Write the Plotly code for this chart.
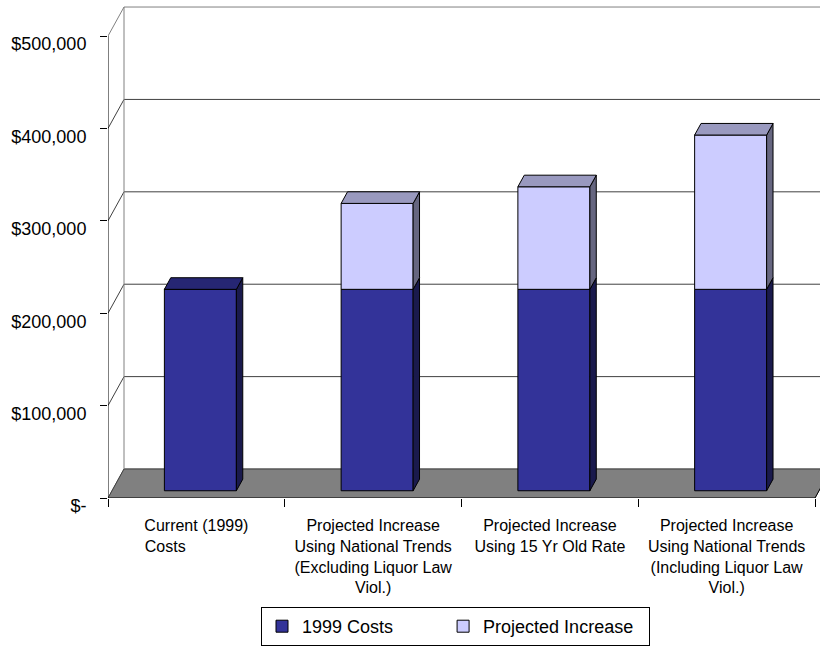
import numpy as np
import plotly.graph_objects as go

# ---- data -------------------------------------------------------------
categories = [
    "Current (1999)<br>Costs" + "\u00a0" * 14,
    "Projected Increase<br>Using National Trends<br>(Excluding Liquor Law<br>Viol.)",
    "Projected Increase<br>Using 15 Yr Old Rate",
    "Projected Increase<br>Using National Trends<br>(Including Liquor Law<br>Viol.)",
]
series_names = ["1999 Costs", "Projected Increase"]
costs_1999 = [218000, 218000, 218000, 218000]
projected_increase = [0, 93000, 111000, 167000]
y_tick_values = [0, 100000, 200000, 300000, 400000, 500000]
y_tick_labels = ["$-", "$100,000", "$200,000", "$300,000", "$400,000", "$500,000"]

# ---- geometry / style ---------------------------------------------------
W, H = 820, 648
M_L, M_B = 108, 150
PLOT_W, PLOT_H = W - M_L, H - M_B
CAT_PX = 176.75                      # pixel width of one category slot
X_MAX = PLOT_W / CAT_PX
Y_TOP = 539000
UNITS_PER_PX = Y_TOP / PLOT_H
DX = 16 / CAT_PX                     # depth of the 3-D box (x component)
DY = 29 * UNITS_PER_PX               # depth of the 3-D box (y component)
BAR_W = 72 / CAT_PX
FRONT, BACK = 0.25, 0.65             # bar front/back depth fractions

DARK, LIGHT = "#333399", "#CCCCFF"
DARK_TOP, DARK_SIDE = "#262673", "#1a1a4d"
LIGHT_TOP, LIGHT_SIDE = "#9999bf", "#666680"
FONT = "Liberation Sans, Arial, sans-serif"
NBSP = "\u00a0"

n = len(categories)
centers = np.arange(n) + 0.5
lift = FRONT * DY
shift = FRONT * DX
bdx = (BACK - FRONT) * DX
bdy = (BACK - FRONT) * DY

fig = go.Figure()

# front faces of the stacked bars
fig.add_trace(go.Bar(
    x=centers, y=costs_1999, base=[lift] * n, width=BAR_W,
    offset=-BAR_W / 2 + shift, name=series_names[0] + NBSP * 9,
    marker=dict(color=DARK, line=dict(color="black", width=1)),
    hoverinfo="skip",
))
fig.add_trace(go.Bar(
    x=centers, y=projected_increase,
    base=[lift + c for c in costs_1999], width=BAR_W,
    offset=-BAR_W / 2 + shift, name=series_names[1] + NBSP * 2,
    marker=dict(color=LIGHT, line=dict(color="black", width=1)),
    hoverinfo="skip",
))


def face(xs, ys, color):
    fig.add_trace(go.Scatter(
        x=xs + [xs[0]], y=ys + [ys[0]], mode="lines", fill="toself",
        fillcolor=color, line=dict(color="black", width=1),
        hoverinfo="skip", showlegend=False,
    ))


# side and top faces
for i in range(n):
    xl = centers[i] - BAR_W / 2 + shift
    xr = xl + BAR_W
    segs = [(0, costs_1999[i], DARK_SIDE, DARK_TOP),
            (costs_1999[i], costs_1999[i] + projected_increase[i], LIGHT_SIDE, LIGHT_TOP)]
    segs = [s for s in segs if s[1] > s[0]]
    for k, (b, t, side_c, top_c) in enumerate(segs):
        b, t = b + lift, t + lift
        face([xr, xr + bdx, xr + bdx, xr], [b, b + bdy, t + bdy, t], side_c)
        if k == len(segs) - 1:
            face([xl, xl + bdx, xr + bdx, xr], [t, t + bdy, t + bdy, t], top_c)

# category labels live on an overlaying axis so ticks can sit on the slot edges
fig.add_trace(go.Scatter(x=[None], y=[None], xaxis="x2", showlegend=False,
                         hoverinfo="skip"))

shapes = []
# floor
shapes.append(dict(type="path", xref="x", yref="y", layer="below",
                   path=f"M0,0 L{n},0 L{n + DX},{DY} L{DX},{DY} Z",
                   fillcolor="#808080", line=dict(color="#808080", width=1)))
# back-wall gridlines with their side-wall diagonals
for v in y_tick_values:
    col = "#808080" if v == y_tick_values[-1] else "#404040"
    shapes.append(dict(type="path", xref="x", yref="y", layer="below",
                       path=f"M0,{v} L{DX},{v + DY} L{X_MAX + 1},{v + DY}",
                       line=dict(color=col, width=1)))
# back-wall left edge
shapes.append(dict(type="line", xref="x", yref="y", layer="below",
                   x0=DX, y0=DY, x1=DX, y1=y_tick_values[-1] + DY,
                   line=dict(color="#808080", width=1)))
# front value axis line
shapes.append(dict(type="line", xref="x", yref="y", layer="above",
                   x0=0, y0=0, x1=0, y1=y_tick_values[-1],
                   line=dict(color="black", width=1)))
# front floor edge and right floor edge
shapes.append(dict(type="path", xref="x", yref="y", layer="above",
                   path=f"M0,0 L{n},0 L{n + DX},{DY}",
                   line=dict(color="black", width=1)))

fig.update_layout(
    width=W, height=H,
    margin=dict(l=M_L, r=0, t=0, b=M_B, pad=0),
    paper_bgcolor="white", plot_bgcolor="white",
    barmode="overlay",
    font=dict(family=FONT, color="black"),
    shapes=shapes,
    xaxis=dict(range=[0, X_MAX], tickmode="array", tickvals=list(range(n + 1)),
               showticklabels=False, ticks="outside", ticklen=8,
               tickcolor="black", showgrid=False, zeroline=False,
               showline=False),
    xaxis2=dict(range=[0, X_MAX], overlaying="x", anchor="y", side="bottom",
                tickmode="array", tickvals=list(centers), ticktext=categories,
                ticks="", showgrid=False, zeroline=False, showline=False,
                tickfont=dict(size=16, family=FONT, color="black"),
                ticklabelstandoff=16),
    yaxis=dict(range=[0, Y_TOP], tickmode="array", tickvals=y_tick_values,
               ticktext=y_tick_labels, ticks="outside", ticklen=7,
               tickcolor="black", showgrid=False, zeroline=False,
               showline=False, ticklabelshift=8, ticklabelstandoff=10,
               tickfont=dict(size=18, family=FONT, color="black")),
    legend=dict(orientation="h", x=(261 - M_L) / PLOT_W, xanchor="left",
                y=(PLOT_H - 607) / PLOT_H, yanchor="top",
                bordercolor="black", borderwidth=1, bgcolor="white",
                font=dict(size=18, family=FONT, color="black"),
                traceorder="normal"),
    showlegend=True,
)

fig.write_html("out.html")
